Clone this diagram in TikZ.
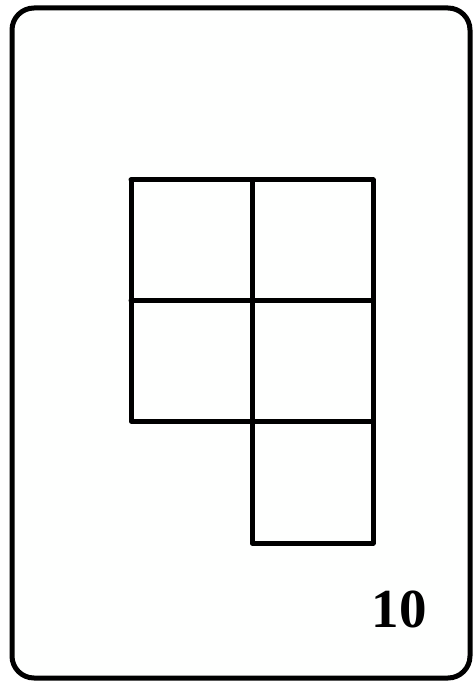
\documentclass[tikz,border=0pt]{standalone}
\usepackage{fontspec}
\setmainfont{Liberation Serif}
\begin{document}
\begin{tikzpicture}[x=1pt,y=-1pt,
  card/.style={draw=black,line width=5pt,rounded corners=22pt,fill=white!98!green!20!white},
  gridline/.style={draw=black,line width=5pt,line cap=round,line join=round},
  numlabel/.style={font=\bfseries\fontsize{55}{60}\selectfont,inner sep=0pt}]
\useasboundingbox (0,0) rectangle (472,684);
\fill[white] (0,0) rectangle (472,684);
\draw[card] (12,8) rectangle (470,678);
\draw[gridline] (131,180) -- (373,180) -- (373,543) -- (252,543) -- (252,180);
\draw[gridline] (131,180) -- (131,421) -- (373,421);
\draw[gridline] (131,300.5) -- (373,300.5);
\node[numlabel] (num) at (399,609) {10};
\end{tikzpicture}
\end{document}
